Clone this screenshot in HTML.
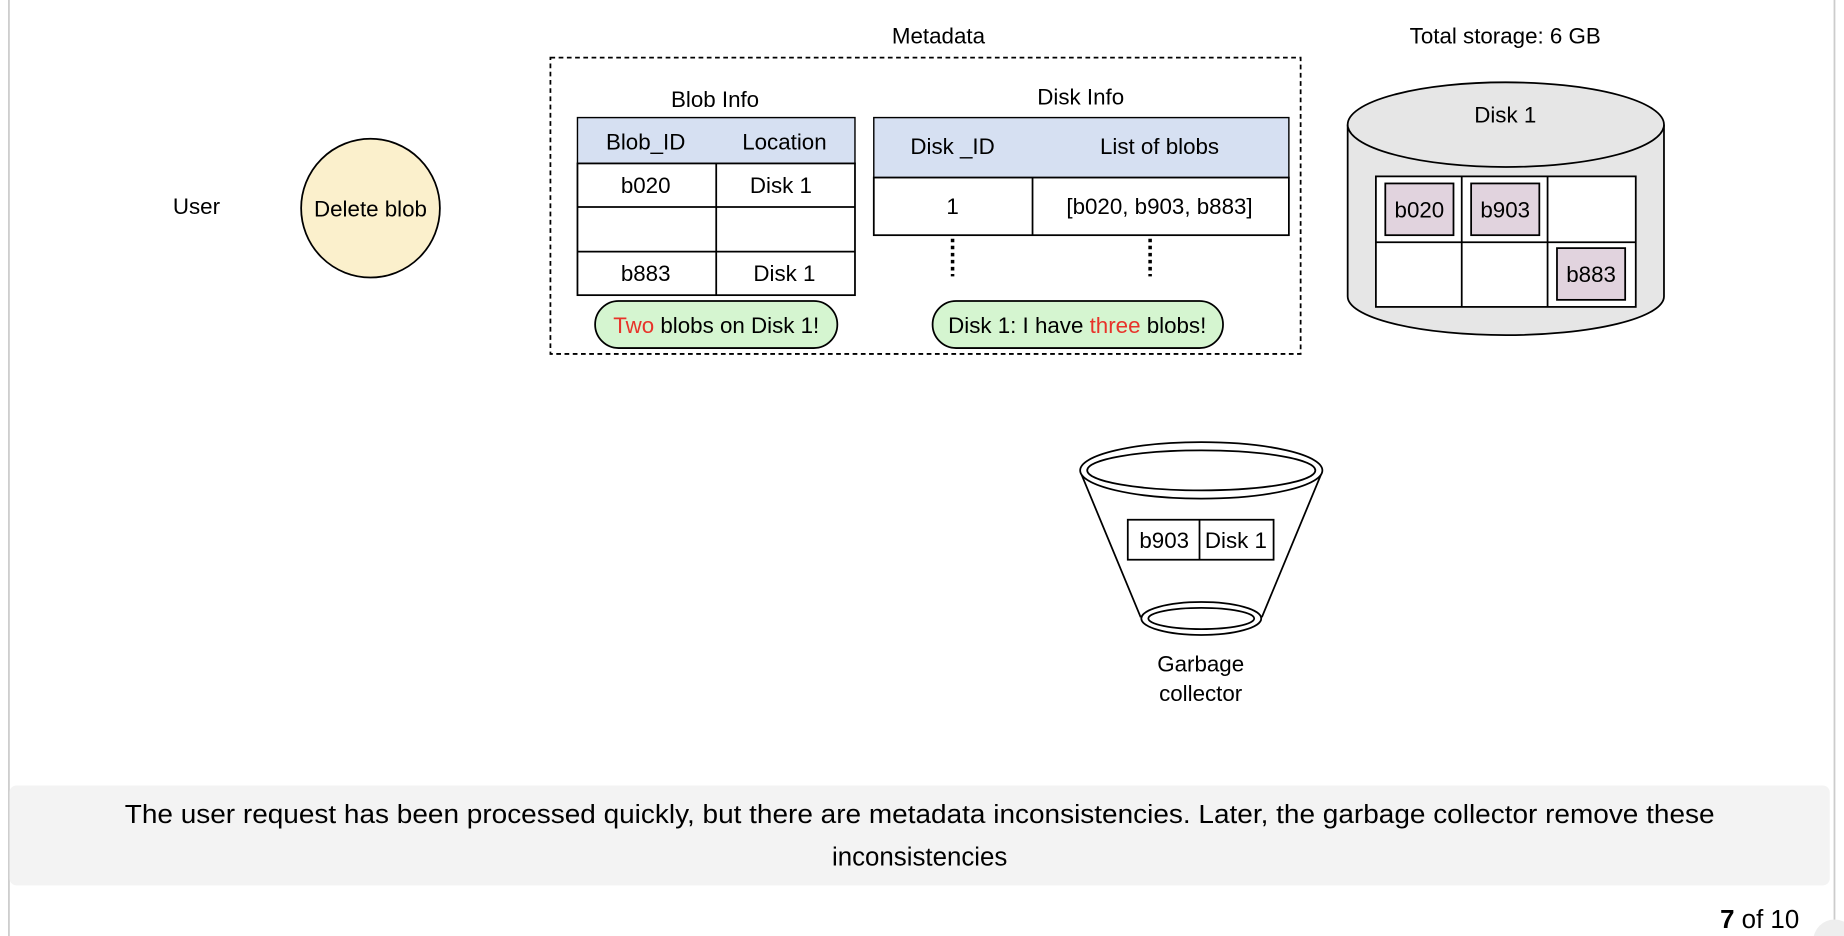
<!DOCTYPE html>
<html><head><style>
html,body{margin:0;padding:0;background:#fff;width:1844px;height:936px;overflow:hidden}
svg{display:block}
text{font-family:"Liberation Sans",Helvetica,sans-serif;fill:#000}
</style></head><body>
<svg width="1844" height="936" viewBox="0 0 1568 796" xmlns="http://www.w3.org/2000/svg">
<line x1="7.5" y1="0" x2="7.5" y2="796" stroke="#ccc" stroke-width="1.5"/>
<line x1="1560" y1="0" x2="1560" y2="796" stroke="#ccc" stroke-width="1.5"/>
<rect x="8" y="668" width="1548" height="85" rx="6" fill="#f3f3f3"/>
<text x="106" y="700" font-size="22" textLength="1352" lengthAdjust="spacingAndGlyphs">The user request has been processed quickly, but there are metadata inconsistencies. Later, the garbage collector remove these</text>
<text x="782" y="736" font-size="22" text-anchor="middle">inconsistencies</text>
<text x="1530" y="789" font-size="22" text-anchor="end"><tspan font-weight="bold">7</tspan> of 10</text>
<circle cx="1560" cy="800" r="18" fill="#eee"/>

<text x="167" y="182" font-size="19" text-anchor="middle">User</text>
<circle cx="315" cy="177" r="59" fill="#fbf0cc" stroke="#000" stroke-width="1.5"/>
<text x="315" y="184" font-size="19" text-anchor="middle">Delete blob</text>

<text x="798" y="37" font-size="19" text-anchor="middle">Metadata</text>
<rect x="468" y="49" width="638" height="252" fill="none" stroke="#000" stroke-width="1.5" stroke-dasharray="4,3"/>

<text x="608" y="91" font-size="19" text-anchor="middle">Blob Info</text>
<rect x="491" y="100" width="236" height="39" fill="#d6e0f2" stroke="#000" stroke-width="1.2"/>
<rect x="491" y="139" width="236" height="112" fill="#fff" stroke="#000" stroke-width="1.5"/>
<line x1="491" y1="176" x2="727" y2="176" stroke="#000" stroke-width="1.5"/>
<line x1="491" y1="214" x2="727" y2="214" stroke="#000" stroke-width="1.5"/>
<line x1="609" y1="139" x2="609" y2="251" stroke="#000" stroke-width="1.5"/>
<text x="549" y="127" font-size="19" text-anchor="middle">Blob_ID</text>
<text x="667" y="127" font-size="19" text-anchor="middle">Location</text>
<text x="549" y="164" font-size="19" text-anchor="middle">b020</text>
<text x="664" y="164" font-size="19" text-anchor="middle">Disk 1</text>
<text x="549" y="239" font-size="19" text-anchor="middle">b883</text>
<text x="667" y="239" font-size="19" text-anchor="middle">Disk 1</text>

<text x="919" y="89" font-size="19" text-anchor="middle">Disk Info</text>
<rect x="743" y="100" width="353" height="51" fill="#d6e0f2" stroke="#000" stroke-width="1.2"/>
<rect x="743" y="151" width="353" height="49" fill="#fff" stroke="#000" stroke-width="1.5"/>
<line x1="878" y1="151" x2="878" y2="200" stroke="#000" stroke-width="1.5"/>
<text x="810" y="131" font-size="19" text-anchor="middle">Disk _ID</text>
<text x="986" y="131" font-size="19" text-anchor="middle">List of blobs</text>
<text x="810" y="182" font-size="19" text-anchor="middle">1</text>
<text x="986" y="182" font-size="19" text-anchor="middle">[b020, b903, b883]</text>
<line x1="810" y1="203" x2="810" y2="235" stroke="#000" stroke-width="3" stroke-dasharray="3,3"/>
<line x1="978" y1="203" x2="978" y2="235" stroke="#000" stroke-width="3" stroke-dasharray="3,3"/>

<rect x="506" y="256" width="206" height="40" rx="20" fill="#d5f5d0" stroke="#000" stroke-width="1.5"/>
<text x="609" y="283" font-size="19" text-anchor="middle"><tspan fill="#e8332a">Two</tspan> blobs on Disk 1!</text>
<rect x="793" y="256" width="247" height="40" rx="20" fill="#d5f5d0" stroke="#000" stroke-width="1.5"/>
<text x="916" y="283" font-size="19" text-anchor="middle">Disk 1: I have <tspan fill="#e8332a">three</tspan> blobs!</text>

<text x="1280" y="37" font-size="19" text-anchor="middle">Total storage: 6 GB</text>
<path d="M1146 106 L1146 252 A134.5 33 0 0 0 1415 252 L1415 106" fill="#e6e6e6" stroke="#000" stroke-width="1.5"/>
<ellipse cx="1280.5" cy="106" rx="134.5" ry="36" fill="#e6e6e6" stroke="#000" stroke-width="1.5"/>
<text x="1280" y="104" font-size="19" text-anchor="middle">Disk 1</text>
<rect x="1170" y="150" width="221" height="111" fill="#fff" stroke="#000" stroke-width="1.5"/>
<line x1="1243" y1="150" x2="1243" y2="261" stroke="#000" stroke-width="1.5"/>
<line x1="1316" y1="150" x2="1316" y2="261" stroke="#000" stroke-width="1.5"/>
<line x1="1170" y1="206" x2="1391" y2="206" stroke="#000" stroke-width="1.5"/>
<rect x="1178" y="156" width="58" height="44" fill="#e1d3de" stroke="#000" stroke-width="1.5"/>
<rect x="1251" y="156" width="58" height="44" fill="#e1d3de" stroke="#000" stroke-width="1.5"/>
<rect x="1324" y="211" width="58" height="44" fill="#e1d3de" stroke="#000" stroke-width="1.5"/>
<text x="1207" y="185" font-size="19" text-anchor="middle">b020</text>
<text x="1280" y="185" font-size="19" text-anchor="middle">b903</text>
<text x="1353" y="240" font-size="19" text-anchor="middle">b883</text>

<path d="M919 402 L970 525 M1124 402 L1073 525" stroke="#000" stroke-width="1.5" fill="none"/>
<ellipse cx="1021.5" cy="400" rx="103" ry="24" fill="#fff" stroke="#000" stroke-width="1.5"/>
<ellipse cx="1021.5" cy="400" rx="97" ry="17" fill="#fff" stroke="#000" stroke-width="1.5"/>
<ellipse cx="1021.5" cy="526" rx="51" ry="14" fill="#fff" stroke="#000" stroke-width="1.5"/>
<ellipse cx="1021.5" cy="526" rx="45" ry="9" fill="#fff" stroke="#000" stroke-width="1.5"/>
<rect x="959" y="442" width="124" height="34" fill="#fff" stroke="#000" stroke-width="1.5"/>
<line x1="1020" y1="442" x2="1020" y2="476" stroke="#000" stroke-width="1.5"/>
<text x="990" y="466" font-size="19" text-anchor="middle">b903</text>
<text x="1051" y="466" font-size="19" text-anchor="middle">Disk 1</text>
<text x="1021" y="571" font-size="19" text-anchor="middle">Garbage</text>
<text x="1021" y="596" font-size="19" text-anchor="middle">collector</text>
</svg>
</body></html>
